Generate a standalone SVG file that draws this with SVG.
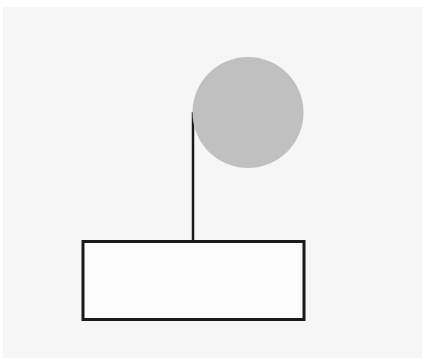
<svg xmlns="http://www.w3.org/2000/svg" width="428" height="363" viewBox="0 0 428 363">
<style>
.bg{fill:#f6f6f6}
.ball{fill:#c0c0c0}
.box{fill:#fcfcfc;stroke:#1a1a1a;stroke-width:3}
.conn{stroke:#1a1a1a;stroke-width:2.5;fill:none}
</style>
<rect x="0" y="0" width="428" height="363" fill="#ffffff"/>
<rect class="bg" x="3" y="7" width="419" height="351"/>
<g id="connectors">
<line class="conn" x1="193" y1="112" x2="193" y2="241"/>
</g>
<g id="circle">
<circle class="ball" cx="248" cy="112.5" r="55.5"/>
</g>
<g id="box">
<rect class="box" x="83" y="241.5" width="221" height="78"/>
</g>
</svg>
